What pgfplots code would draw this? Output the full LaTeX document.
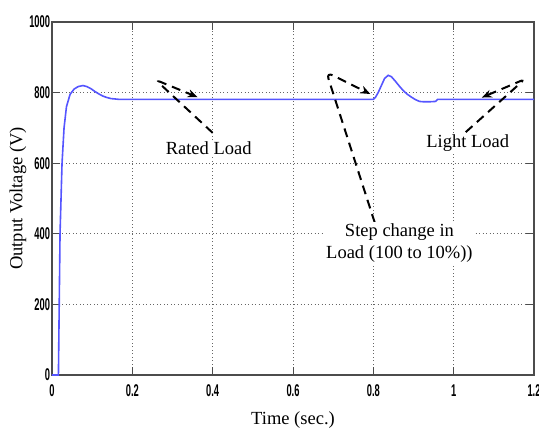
\documentclass[border=0pt]{standalone}
\usepackage{pgfplots}
\pgfplotsset{compat=1.18}
\usepackage{fontspec}
\setmainfont{Liberation Serif}
\newfontfamily\tickfont{Liberation Sans}
\usetikzlibrary{arrows.meta}
\definecolor{curve}{RGB}{85,85,255}
\begin{document}
\begin{tikzpicture}
\useasboundingbox (0,0) rectangle (539pt,432pt);
\begin{axis}[
  at={(52pt,57pt)}, anchor=south west,
  scale only axis, width=482pt, height=353pt,
  xmin=0, xmax=1.2, ymin=0, ymax=1000,
  xtick={0,0.2,0.4,0.6,0.8,1,1.2},
  xticklabels={0,0.2,0.4,0.6,0.8,1,1.2},
  ytick={0,200,400,600,800,1000},
  yticklabels={0,200,400,600,800,1000},
  grid=major,
  grid style={dash pattern=on 1pt off 2.5pt, black!60, line width=0.9pt},
  tick align=inside, major tick length=8pt,
  axis line style={black!70, line width=1.6pt},
  tick style={black!70, line width=1pt},
  tick label style={font=\tickfont\bfseries\fontsize{17}{17}\selectfont, xscale=0.55},
  xticklabel style={yshift=-6pt},
  xlabel={Time (sec.)}, ylabel={Output Voltage (V)},
  label style={font=\fontsize{18.5}{20}\selectfont},
  xlabel style={at={(axis description cs:0.5,-0.1275)}, anchor=center},
  ylabel style={at={(axis description cs:-0.0705,0.5)}, anchor=center},
  clip=false,
]
\addplot[curve, line width=1.6pt] coordinates {
(0,0) (0.016,0) (0.018,200) (0.020,400) (0.025,600) (0.030,700) (0.036,760)
(0.045,795) (0.055,810) (0.065,817) (0.077,820) (0.087,817) (0.097,811)
(0.107,803) (0.117,796) (0.127,790) (0.137,786) (0.147,783) (0.157,782)
(0.165,781) (0.8,781) (0.805,786) (0.812,800) (0.82,820) (0.828,840)
(0.837,849) (0.845,845) (0.855,832) (0.865,818) (0.875,805) (0.885,795)
(0.895,787) (0.905,780) (0.915,775) (0.925,774) (0.94,774) (0.955,775)
(0.96,781) (1.2,781)
};
\tikzset{ann/.style={line width=2pt, dash pattern=on 9pt off 6pt, -{Stealth[length=10pt,width=8pt]}}}
\draw[ann, rounded corners=5pt]
  (axis cs:0.40,686) -- (axis cs:0.258,836) -- (axis cs:0.3625,787);
\draw[ann, rounded corners=7pt]
  (axis cs:0.815,391) -- (axis cs:0.683,858) -- (axis cs:0.7925,796);
\draw[ann, rounded corners=5pt]
  (axis cs:1.03,688) -- (axis cs:1.177,838) -- (axis cs:1.07,786);
\node[fill=white, inner sep=1pt, font=\fontsize{18.5}{20}\selectfont] at (axis cs:0.39,643) {Rated Load};
\node[fill=white, inner sep=1pt, font=\fontsize{18.5}{20}\selectfont] at (axis cs:1.035,657) {Light Load};
\node[fill=white, inner sep=2pt, align=center, font=\fontsize{18.5}{22}\selectfont] at (axis cs:0.865,374) {Step change in\\Load (100 to 10\%))};
\end{axis}
\end{tikzpicture}
\end{document}
